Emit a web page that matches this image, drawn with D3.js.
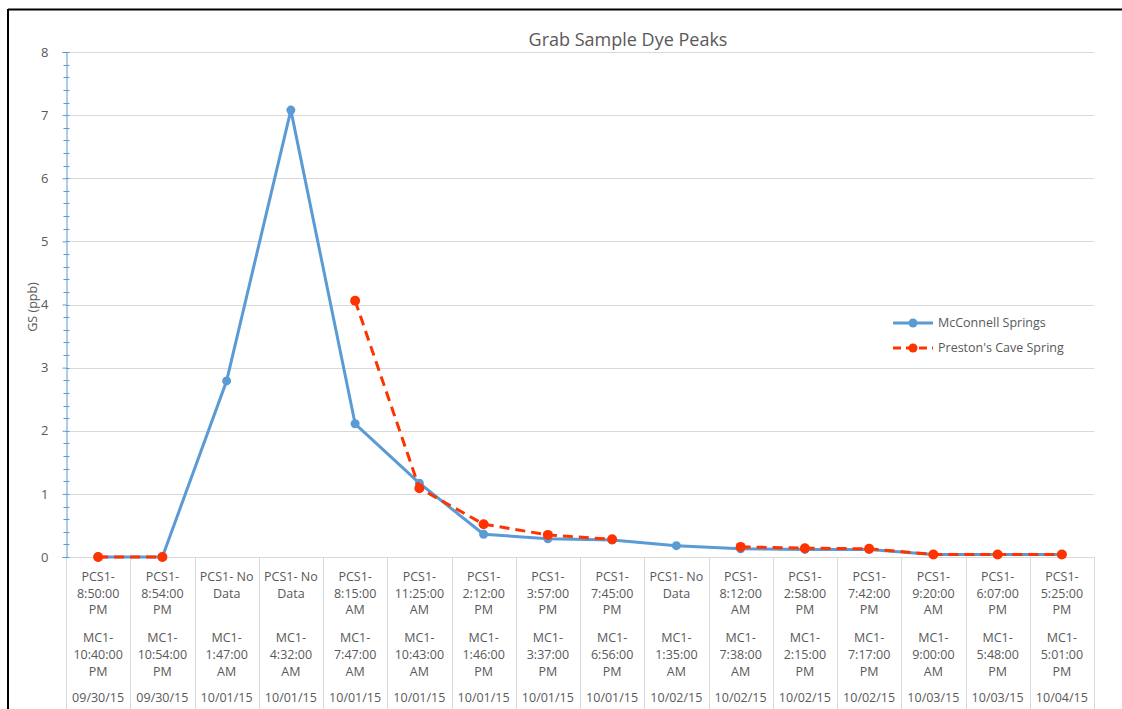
<!DOCTYPE html>
<html>
<head>
<meta charset="utf-8">
<script src="https://cdn.jsdelivr.net/npm/d3@7"></script>
<style>
  body { margin: 0; background: #fff; }
  text { font-family: "Open Sans", sans-serif; fill: #595959; }
</style>
</head>
<body>
<div id="chart"></div>
<script>

// sample labels (top part of each category)
var pcsLabels = [
    ['PCS1-', '8:50:00', 'PM'], ['PCS1-', '8:54:00', 'PM'], ['PCS1- No', 'Data'], ['PCS1- No', 'Data'],
    ['PCS1-', '8:15:00', 'AM'], ['PCS1-', '11:25:00', 'AM'], ['PCS1-', '2:12:00', 'PM'], ['PCS1-', '3:57:00', 'PM'],
    ['PCS1-', '7:45:00', 'PM'], ['PCS1- No', 'Data'], ['PCS1-', '8:12:00', 'AM'], ['PCS1-', '2:58:00', 'PM'],
    ['PCS1-', '7:42:00', 'PM'], ['PCS1-', '9:20:00', 'AM'], ['PCS1-', '6:07:00', 'PM'], ['PCS1-', '5:25:00', 'PM']
];
var mcLabels = [
    ['MC1-', '10:40:00', 'PM'], ['MC1-', '10:54:00', 'PM'], ['MC1-', '1:47:00', 'AM'], ['MC1-', '4:32:00', 'AM'],
    ['MC1-', '7:47:00', 'AM'], ['MC1-', '10:43:00', 'AM'], ['MC1-', '1:46:00', 'PM'], ['MC1-', '3:37:00', 'PM'],
    ['MC1-', '6:56:00', 'PM'], ['MC1-', '1:35:00', 'AM'], ['MC1-', '7:38:00', 'AM'], ['MC1-', '2:15:00', 'PM'],
    ['MC1-', '7:17:00', 'PM'], ['MC1-', '9:00:00', 'AM'], ['MC1-', '5:48:00', 'PM'], ['MC1-', '5:01:00', 'PM']
];
var dates = ['09/30/15', '09/30/15', '10/01/15', '10/01/15', '10/01/15', '10/01/15', '10/01/15', '10/01/15',
             '10/01/15', '10/02/15', '10/02/15', '10/02/15', '10/02/15', '10/03/15', '10/03/15', '10/04/15'];

var mcconnell = [0, 0, 2.79, 7.08, 2.11, 1.17, 0.36, 0.29, 0.27, 0.18, 0.13, 0.12, 0.12, 0.04, 0.04, 0.04];
var preston   = [0, 0, null, null, 4.06, 1.09, 0.52, 0.35, 0.28, null, 0.16, 0.14, 0.13, 0.04, 0.04, 0.04];

var yTicks = [0, 1, 2, 3, 4, 5, 6, 7, 8];

var W = 1122, H = 709;
var plotLeft = 66, plotRight = 1094, plotTop = 52, plotBottom = 557;

var svg = d3.select('#chart').append('svg')
    .attr('width', W)
    .attr('height', H);

// outer border (top and left are visible in the crop)
svg.append('line').attr('x1', 8).attr('y1', 9.5).attr('x2', W).attr('y2', 9.5)
    .attr('stroke', '#000').attr('stroke-width', 2);
svg.append('line').attr('x1', 8).attr('y1', 9).attr('x2', 8).attr('y2', H)
    .attr('stroke', '#000').attr('stroke-width', 2);

var idx = d3.range(dates.length);

var xScale = d3.scaleBand()
    .domain(idx)
    .range([plotLeft, plotRight]);

var yScale = d3.scaleLinear()
    .domain([0, 8])
    .range([plotBottom, plotTop]);

function cx(i) { return xScale(i) + xScale.bandwidth() / 2; }

// horizontal gridlines
svg.append('g')
    .selectAll('line')
    .data(yTicks)
    .enter()
    .append('line')
    .attr('x1', plotLeft)
    .attr('x2', plotRight)
    .attr('y1', function(d) { return Math.round(yScale(d)) + 0.5; })
    .attr('y2', function(d) { return Math.round(yScale(d)) + 0.5; })
    .attr('stroke', '#d9d9d9')
    .attr('stroke-width', 1);

// category separators below the axis
svg.append('g')
    .selectAll('line')
    .data(idx.concat([idx.length]))
    .enter()
    .append('line')
    .attr('x1', function(d) { return Math.round(d < idx.length ? xScale(d) : plotRight) + 0.5; })
    .attr('x2', function(d) { return Math.round(d < idx.length ? xScale(d) : plotRight) + 0.5; })
    .attr('y1', plotBottom)
    .attr('y2', H)
    .attr('stroke', '#d9d9d9')
    .attr('stroke-width', 1);

// y axis (blue, with minor ticks)
var yAxis = d3.axisLeft(yScale).tickValues(yTicks).tickSize(4).tickPadding(14);
var gy = svg.append('g')
    .attr('transform', 'translate(' + (plotLeft + 0.5) + ',0)')
    .call(yAxis);
gy.select('.domain').attr('stroke', '#5b9bd5');
gy.selectAll('.tick line').attr('stroke', '#5b9bd5');
gy.selectAll('.tick text')
    .attr('font-size', 13)
    .attr('font-family', '"Open Sans", sans-serif')
    .attr('fill', '#595959');

var minor = d3.range(0, 8.01, 0.2).filter(function(v) { return Math.abs(v - Math.round(v)) > 0.01; });
svg.append('g')
    .selectAll('line')
    .data(minor)
    .enter()
    .append('line')
    .attr('x1', plotLeft - 2.5)
    .attr('x2', plotLeft + 3.5)
    .attr('y1', function(d) { return Math.round(yScale(d)) + 0.5; })
    .attr('y2', function(d) { return Math.round(yScale(d)) + 0.5; })
    .attr('stroke', '#5b9bd5')
    .attr('stroke-width', 1);
svg.append('g')
    .selectAll('line')
    .data(yTicks)
    .enter()
    .append('line')
    .attr('x1', plotLeft + 0.5)
    .attr('x2', plotLeft + 3.5)
    .attr('y1', function(d) { return Math.round(yScale(d)) + 0.5; })
    .attr('y2', function(d) { return Math.round(yScale(d)) + 0.5; })
    .attr('stroke', '#5b9bd5')
    .attr('stroke-width', 1);

// x labels
var labelG = svg.append('g').attr('font-size', 12.5).attr('text-anchor', 'middle');
var pcsY = [581, 598, 614];
var mcY = [642, 659, 676];
idx.forEach(function(i) {
    pcsLabels[i].forEach(function(t, k) {
        labelG.append('text').attr('x', cx(i)).attr('y', pcsY[k]).text(t);
    });
    mcLabels[i].forEach(function(t, k) {
        labelG.append('text').attr('x', cx(i)).attr('y', mcY[k]).text(t);
    });
    labelG.append('text').attr('x', cx(i)).attr('y', 702).text(dates[i]);
});

// series
var line = d3.line()
    .defined(function(d) { return d != null; })
    .x(function(d, i) { return cx(i); })
    .y(function(d) { return yScale(d); });

svg.append('path')
    .datum(mcconnell)
    .attr('d', line)
    .attr('fill', 'none')
    .attr('stroke', '#5b9bd5')
    .attr('stroke-width', 3)
    .attr('stroke-linejoin', 'round');

svg.append('g')
    .selectAll('circle')
    .data(mcconnell)
    .enter()
    .append('circle')
    .attr('cx', function(d, i) { return cx(i); })
    .attr('cy', function(d) { return yScale(d); })
    .attr('r', 4.5)
    .attr('fill', '#5b9bd5');

svg.append('path')
    .datum(preston)
    .attr('d', line)
    .attr('fill', 'none')
    .attr('stroke', '#ff3300')
    .attr('stroke-width', 3)
    .attr('stroke-dasharray', '10,6');

svg.append('g')
    .selectAll('circle')
    .data(preston.map(function(v, i) { return [i, v]; }).filter(function(d) { return d[1] != null; }))
    .enter()
    .append('circle')
    .attr('cx', function(d) { return cx(d[0]); })
    .attr('cy', function(d) { return yScale(d[1]); })
    .attr('r', 5)
    .attr('fill', '#ff3300');

// title and axis label
svg.append('text')
    .attr('x', 628)
    .attr('y', 46)
    .attr('text-anchor', 'middle')
    .attr('font-size', 18)
    .text('Grab Sample Dye Peaks');

svg.append('text')
    .attr('transform', 'translate(37,' + 307 + ') rotate(-90)')
    .attr('text-anchor', 'middle')
    .attr('font-size', 12.5)
    .text('GS (ppb)');

// legend
var legend = [
    { name: 'McConnell Springs', color: '#5b9bd5', dash: null, y: 323 },
    { name: "Preston's Cave Spring", color: '#ff3300', dash: '8,5', y: 348 }
];
var lg = svg.append('g');
legend.forEach(function(d) {
    lg.append('line')
        .attr('x1', 893).attr('x2', 933)
        .attr('y1', d.y).attr('y2', d.y)
        .attr('stroke', d.color)
        .attr('stroke-width', 3)
        .attr('stroke-dasharray', d.dash);
    lg.append('circle')
        .attr('cx', 913).attr('cy', d.y).attr('r', 4.5)
        .attr('fill', d.color);
    lg.append('text')
        .attr('x', 938).attr('y', d.y + 4)
        .attr('font-size', 12.5)
        .text(d.name);
});

</script>
</body>
</html>
